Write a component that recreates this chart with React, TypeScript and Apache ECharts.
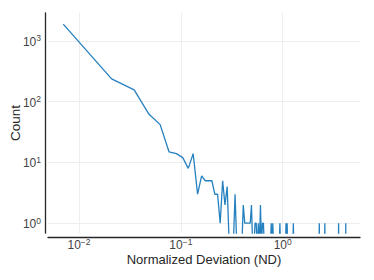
import React, { useEffect, useRef } from "react";
import * as echarts from "echarts";

// Histogram bin centers (Normalized Deviation) and counts
const ND_VALUES: number[] = [
  0.007, 0.0209, 0.0348, 0.0487, 0.0626, 0.0765, 0.0904, 0.1043, 0.1182, 0.1321,
  0.146, 0.1599, 0.1738, 0.1877, 0.2016, 0.2155, 0.2294, 0.2433, 0.2572, 0.2711,
  0.285, 0.2989, 0.3128, 0.3267, 0.3406, 0.3545, 0.3962, 0.4101, 0.424, 0.4379,
  0.4518, 0.4657, 0.4796, 0.4935, 0.5074, 0.5213, 0.5352, 0.5491, 0.563, 0.5769,
  0.5908, 0.6047, 0.6186, 0.6325, 0.6464, 0.6603, 0.7576, 0.7715, 0.7854, 0.7993,
  0.8132, 0.9244, 0.9383, 0.9522, 1.0634, 1.0773, 1.0912, 1.1051, 1.119, 1.258,
  1.2719, 1.2858, 2.2727, 2.2866, 2.3005, 2.5785, 2.5924, 2.6063, 3.5237, 3.5376,
  3.5515, 4.1492, 4.1631,
];
const COUNTS: number[] = [
  1900, 238, 157, 62, 42, 15, 14, 12, 8, 14,
  3, 6, 5, 5, 5, 3, 3, 1, 5, 2,
  4, 0, 0, 0, 3, 0, 0, 2, 1, 1,
  1, 1, 1, 2, 0, 0, 1, 1, 0, 1,
  0, 2, 0, 1, 1, 0, 0, 1, 0, 1,
  0, 0, 1, 0, 0, 1, 0, 1, 0, 0,
  1, 0, 0, 1, 0, 0, 1, 0, 0, 1,
  0, 0, 1,
];

const X_MIN = 0.00496;
const X_MAX = 5.74;
const Y_MIN = 0.69;
const Y_MAX = 2890;
// empty bins sit below the log axis floor and are clipped, like a log plot of zero counts
const EMPTY_BIN_LEVEL = 0.4;

const FONT = "'Liberation Sans', Arial, sans-serif";
const INK = "#262626";
const LABEL = "#444444";
const GRID = "#eeeeee";
const LINE = "#2580c0";

function powerLabel(v: number): string {
  const e = Math.round(Math.log10(v));
  const s = (e < 0 ? "\u2212" : "") + Math.abs(e);
  return `{b|10}{s|${s}}`;
}

const labelRich = {
  b: { fontSize: 12, color: LABEL, fontFamily: FONT, lineHeight: 14, verticalAlign: "bottom" },
  s: { fontSize: 8.5, color: LABEL, fontFamily: FONT, lineHeight: 14, verticalAlign: "top" },
};

export default function App() {
  const ref = useRef<HTMLDivElement>(null);
  useEffect(() => {
    if (!ref.current) return;
    const chart = echarts.init(ref.current, undefined, { renderer: "svg" });
    const data = ND_VALUES.map((x, i) => [x, COUNTS[i] > 0 ? COUNTS[i] : EMPTY_BIN_LEVEL]);
    chart.setOption({
      animation: false,
      backgroundColor: "#ffffff",
      grid: { left: 48, right: 14, top: 13, bottom: 47, containLabel: false },
      xAxis: {
        type: "log",
        logBase: 10,
        min: X_MIN,
        max: X_MAX,
        offset: 4,
        name: "Normalized Deviation (ND)",
        nameLocation: "middle",
        nameGap: 16,
        nameMoveOverlap: false,
        nameTextStyle: { fontSize: 13, color: INK, fontFamily: FONT },
        axisLine: { show: true, lineStyle: { color: INK, width: 1.3 } },
        axisTick: { show: false },
        minorTick: { show: false },
        axisLabel: {
          formatter: powerLabel,
          rich: labelRich,
          margin: 0,
          showMinLabel: false,
          showMaxLabel: false,
        },
        splitLine: { show: true, showMinLine: false, showMaxLine: false, lineStyle: { color: GRID, width: 1 } },
      },
      yAxis: {
        type: "log",
        logBase: 10,
        min: Y_MIN,
        max: Y_MAX,
        offset: 3,
        name: "Count",
        nameLocation: "middle",
        nameGap: 23,
        nameMoveOverlap: false,
        nameTextStyle: { fontSize: 13.5, color: INK, fontFamily: FONT },
        axisLine: { show: true, lineStyle: { color: INK, width: 1.3 } },
        axisTick: { show: false },
        minorTick: { show: false },
        axisLabel: {
          formatter: powerLabel,
          rich: labelRich,
          margin: 4,
          showMinLabel: false,
          showMaxLabel: false,
        },
        splitLine: { show: true, showMinLine: false, showMaxLine: false, lineStyle: { color: GRID, width: 1 } },
      },
      series: [
        {
          type: "line",
          data,
          showSymbol: false,
          symbol: "none",
          clip: true,
          lineStyle: { color: LINE, width: 1.3 },
        },
      ],
    });
    return () => chart.dispose();
  }, []);
  return <div ref={ref} style={{ width: 374, height: 280, position: "absolute", left: 0, top: 0 }} />;
}
